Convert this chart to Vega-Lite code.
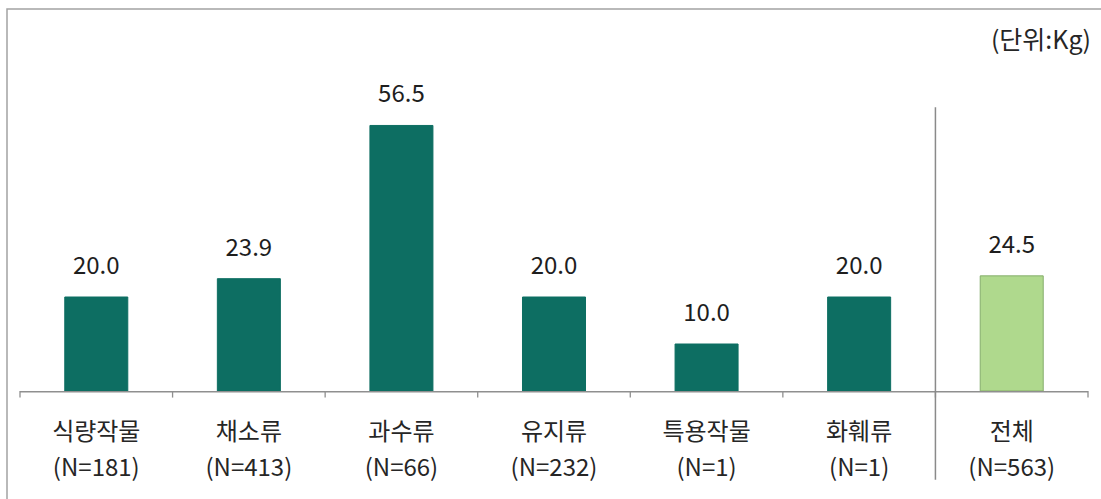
{
  "$schema": "https://vega.github.io/schema/vega-lite/v6.json",
  "width": 1094,
  "height": 490,
  "autosize": {"type": "none"},
  "padding": {"left": 7, "top": 9, "right": 0, "bottom": 0},
  "background": "white",
  "config": {
    "view": {"stroke": "#a3a3a3", "strokeWidth": 1.5, "strokeDash": [1094, 1584, 490]},
    "font": "Noto Sans CJK KR"
  },
  "title": {
    "text": "(단위:Kg)",
    "orient": "top",
    "anchor": "end",
    "frame": "group",
    "offset": -45,
    "dx": -10,
    "fontSize": 25,
    "fontWeight": "normal",
    "font": "Noto Sans CJK KR",
    "color": "#262626"
  },
  "data": {
    "values": [
      {"cat": "식량작물 (N=181)", "value": 20.0, "group": "부문"},
      {"cat": "채소류 (N=413)", "value": 23.9, "group": "부문"},
      {"cat": "과수류 (N=66)", "value": 56.5, "group": "부문"},
      {"cat": "유지류 (N=232)", "value": 20.0, "group": "부문"},
      {"cat": "특용작물 (N=1)", "value": 10.0, "group": "부문"},
      {"cat": "화훼류 (N=1)", "value": 20.0, "group": "부문"},
      {"cat": "전체 (N=563)", "value": 24.5, "group": "전체"}
    ]
  },
  "layer": [
    {
      "mark": {"type": "bar", "width": {"band": 0.413}, "strokeWidth": 1},
      "encoding": {
        "x": {
          "field": "cat",
          "type": "nominal",
          "sort": null,
          "scale": {"paddingInner": 0, "paddingOuter": 0.0852},
          "axis": {
            "orient": "bottom",
            "offset": -108,
            "domain": false,
            "ticks": false,
            "grid": false,
            "title": null,
            "labelAngle": 0,
            "labelExpr": "split(datum.value, ' ')",
            "labelFont": "Noto Sans CJK KR",
            "labelFontSize": 24,
            "labelColor": "#262626",
            "labelPadding": 29,
            "labelLineHeight": 36,
            "labelBaseline": "top",
            "labelLimit": 0
          }
        },
        "y": {
          "field": "value",
          "type": "quantitative",
          "scale": {"domain": [-22.98, 81.28], "nice": false, "zero": false},
          "axis": null
        },
        "y2": {"datum": 0},
        "color": {
          "field": "group",
          "type": "nominal",
          "scale": {"domain": ["부문", "전체"], "range": ["#0d6e62", "#afd98d"]},
          "legend": null
        },
        "stroke": {
          "field": "group",
          "type": "nominal",
          "scale": {"domain": ["부문", "전체"], "range": ["#0d6e62", "#86ae6c"]},
          "legend": null
        }
      }
    },
    {
      "mark": {"type": "bar", "width": {"band": 1}, "color": "#8f8f8f"},
      "encoding": {
        "x": {"field": "cat", "type": "nominal", "sort": null},
        "y": {"datum": 0, "type": "quantitative"},
        "y2": {"datum": -0.3}
      }
    },
    {
      "mark": {"type": "rule", "color": "#8f8f8f", "strokeWidth": 1.3},
      "encoding": {
        "x": {"field": "cat", "type": "nominal", "sort": null, "bandPosition": 0},
        "y": {"datum": 0, "type": "quantitative"},
        "y2": {"datum": -1.4}
      }
    },
    {
      "transform": [{"filter": "datum.group == '전체'"}],
      "mark": {"type": "rule", "color": "#8f8f8f", "strokeWidth": 1.3},
      "encoding": {
        "x": {"field": "cat", "type": "nominal", "sort": null, "bandPosition": 1},
        "y": {"datum": 0, "type": "quantitative"},
        "y2": {"datum": -1.4}
      }
    },
    {
      "transform": [{"filter": "datum.group == '전체'"}],
      "mark": {"type": "rule", "color": "#8a8a8a", "strokeWidth": 1.5},
      "encoding": {
        "x": {"field": "cat", "type": "nominal", "sort": null, "bandPosition": 0},
        "y": {"datum": 60.4, "type": "quantitative"},
        "y2": {"datum": -18.9}
      }
    },
    {
      "mark": {"type": "text", "baseline": "alphabetic", "dy": -23, "fontSize": 24, "font": "Noto Sans CJK KR", "color": "#1e1e1e"},
      "encoding": {
        "x": {"field": "cat", "type": "nominal", "sort": null},
        "y": {"field": "value", "type": "quantitative"},
        "text": {"field": "value", "type": "quantitative", "format": ".1f"}
      }
    }
  ]
}
